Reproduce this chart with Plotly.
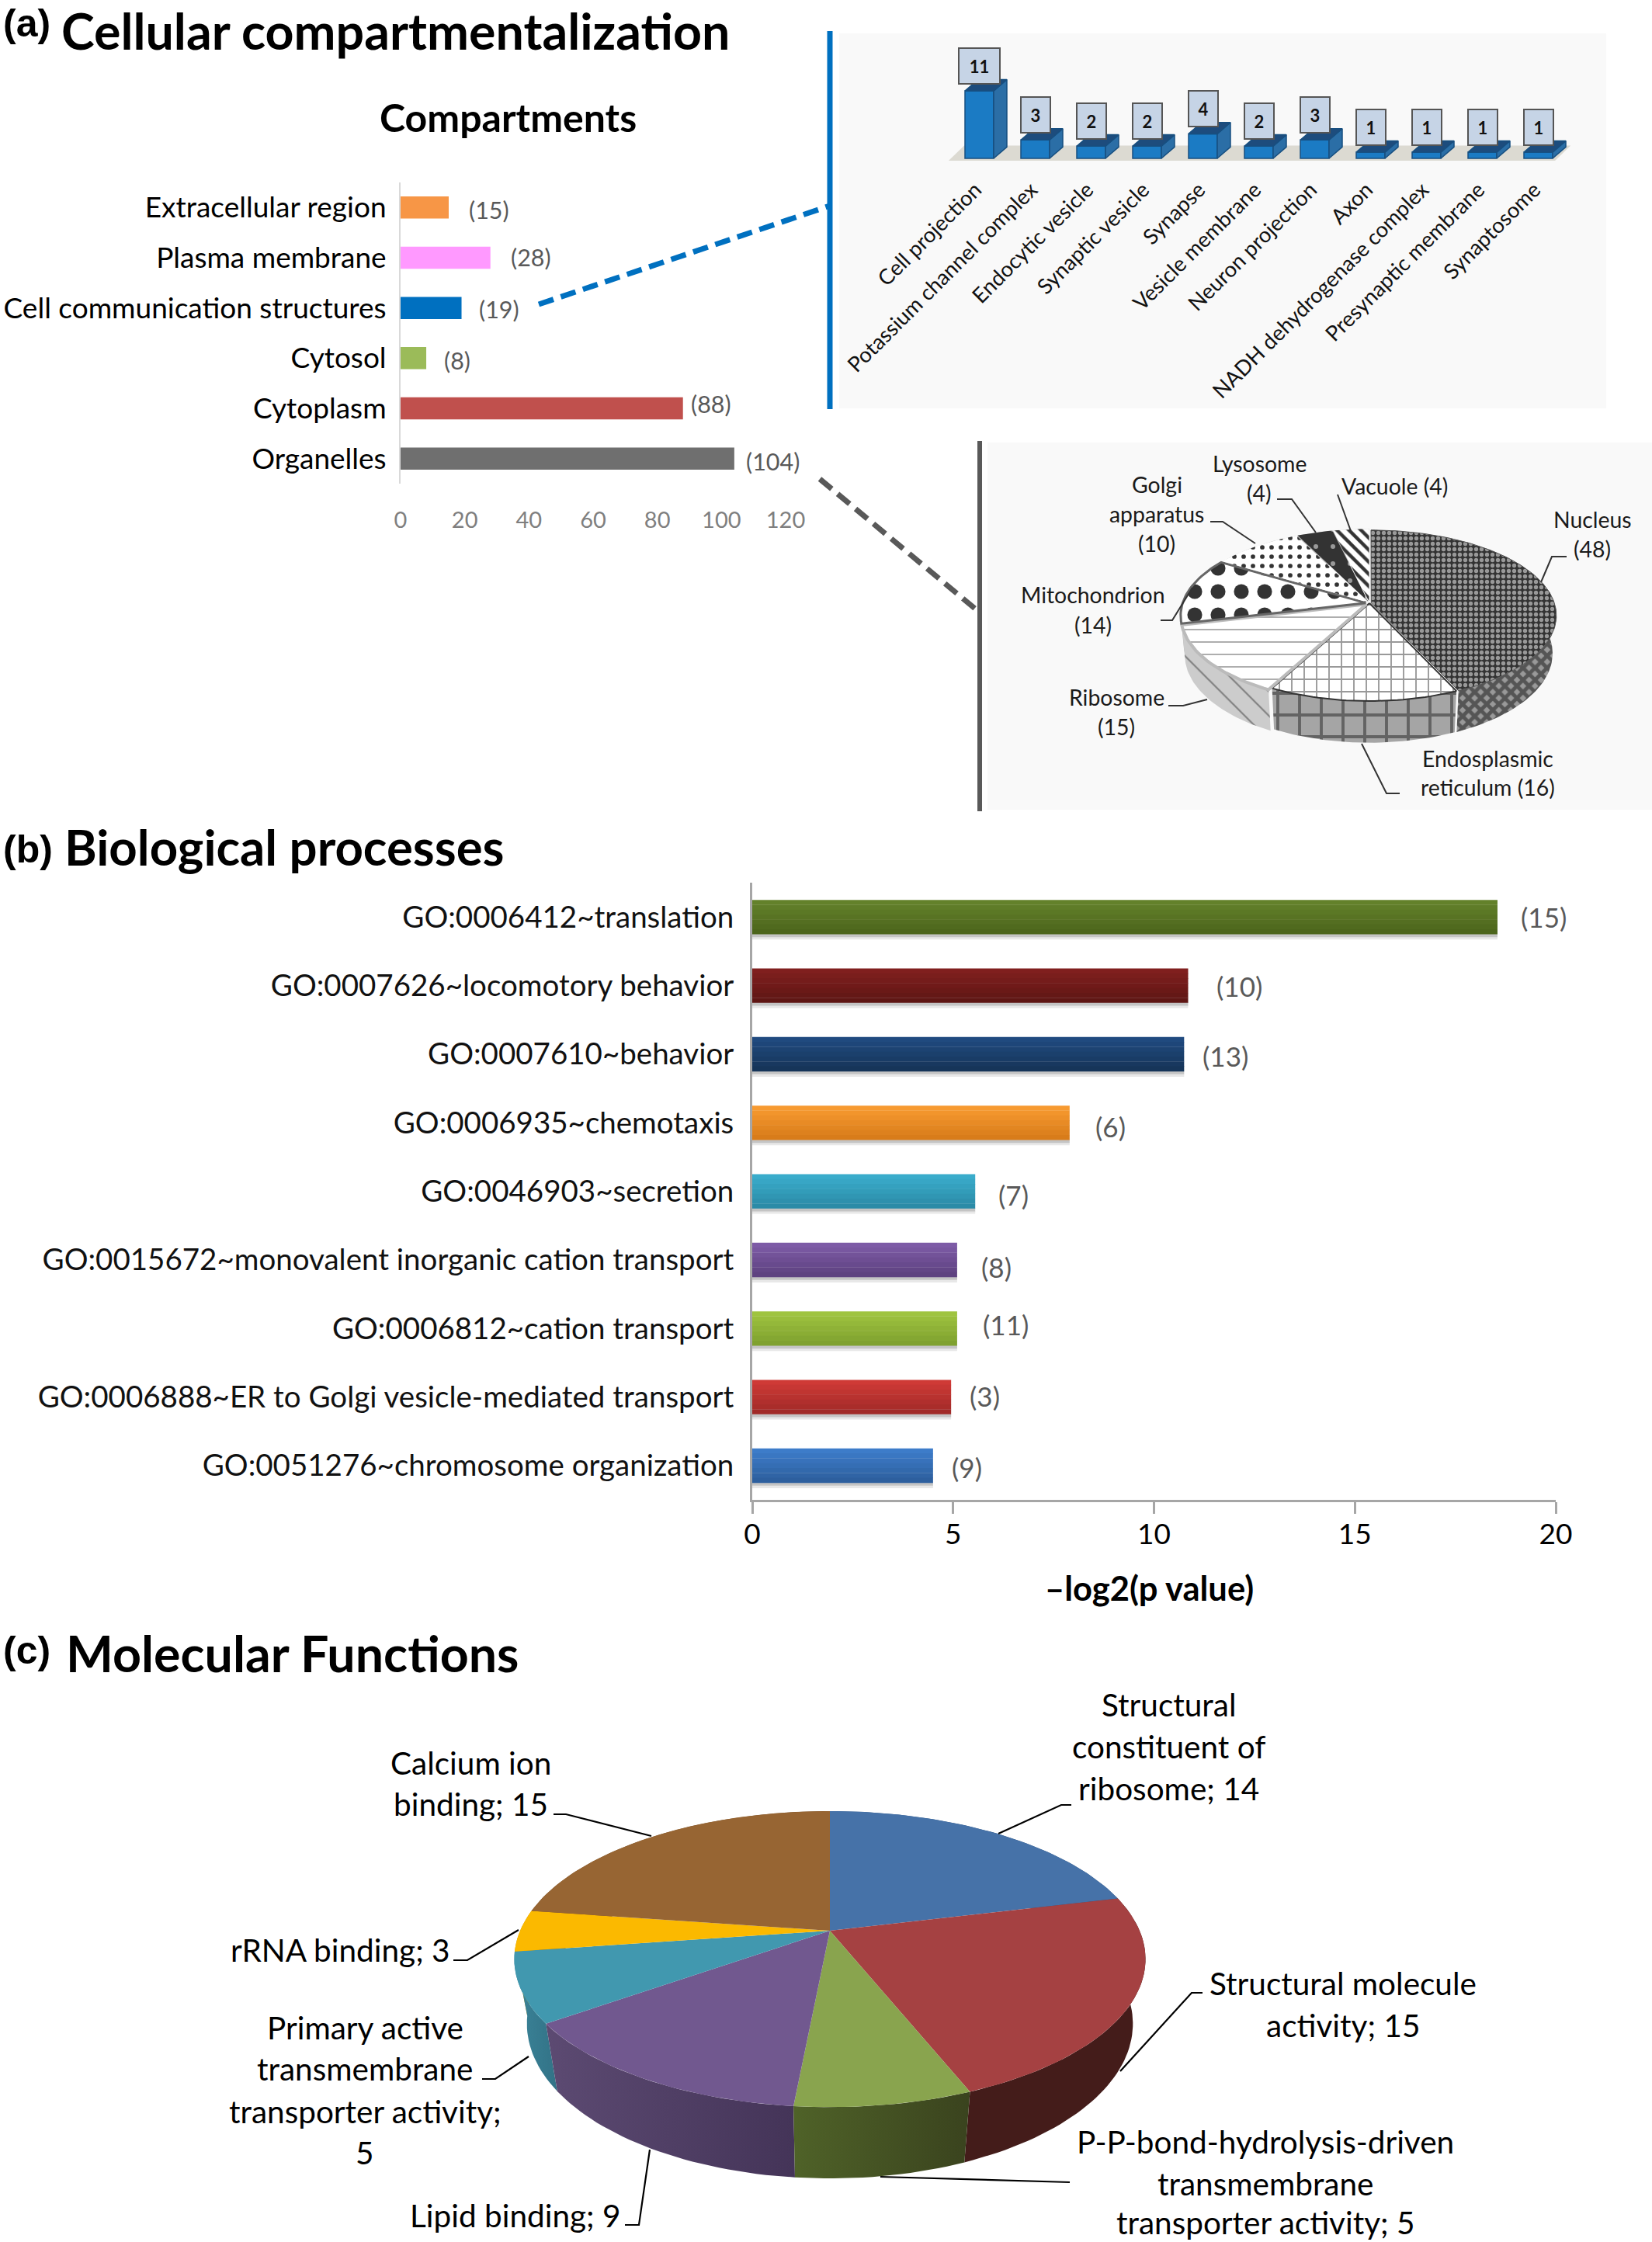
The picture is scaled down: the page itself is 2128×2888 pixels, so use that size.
import math
import plotly.graph_objects as go

W, H = 2128, 2888
FONT = "Lato"

# (a) compartments
comp_names = ["Extracellular region", "Plasma membrane", "Cell communication structures", "Cytosol", "Cytoplasm", "Organelles"]
comp_values = [15, 28, 19, 8, 88, 104]
comp_colors = ["#f79646", "#ff99ff", "#0070c0", "#9bbb59", "#c0504d", "#6f6f6f"]
comp_ticks = [0, 20, 40, 60, 80, 100, 120]
comp_xshift = [24, 24, 20, 21, 8, 13]
comp_yshift = [3, -1, 1, 3, -6, 3]

# (a) inset bars
cc_names = ["Cell projection", "Potassium channel complex", "Endocytic vesicle", "Synaptic vesicle", "Synapse",
            "Vesicle membrane", "Neuron projection", "Axon", "NADH dehydrogenase complex", "Presynaptic membrane", "Synaptosome"]
cc_values = [11, 3, 2, 2, 4, 2, 3, 1, 1, 1, 1]

# (a) inset pie
org_values = [48, 16, 15, 14, 10, 4, 4]

# (b) biological processes
bp_names = ["GO:0006412~translation", "GO:0007626~locomotory behavior", "GO:0007610~behavior", "GO:0006935~chemotaxis",
            "GO:0046903~secretion", "GO:0015672~monovalent inorganic cation transport", "GO:0006812~cation transport",
            "GO:0006888~ER to Golgi vesicle-mediated transport", "GO:0051276~chromosome organization"]
bp_values = [18.55, 10.85, 10.75, 7.9, 5.55, 5.1, 5.1, 4.95, 4.5]
bp_counts = [15, 10, 13, 6, 7, 8, 11, 3, 9]
bp_top = ["#63812a", "#801f1e", "#204a7f", "#f79a30", "#3aaccb", "#7d5ba6", "#9fc43f", "#cf3a36", "#3d7cc9"]
bp_bottom = ["#4c651c", "#5f1614", "#163559", "#d87c1a", "#2b8ba7", "#5e4280", "#7fa12f", "#a12a28", "#2d5f9e"]
bp_xshift = [28, 35, 22, 31, 28, 29, 31, 22, 22]
bp_yshift = [0, 0, 2, 5, 4, 9, -5, -2, 2]
bp_ticks = [0, 5, 10, 15, 20]

# (c) molecular functions
mf_values = [14, 15, 5, 9, 5, 3, 15]
mf_top = ["#4672a8", "#a54142", "#89a44e", "#71588f", "#4198af", "#fbb900", "#976533"]
mf_side_a = ["#39608f", "#441c1a", "#4f6228", "#5c4a72", "#3b8499", "#c99400", "#7a5129"]
mf_side_b = ["#2f5078", "#441c1a", "#3a431e", "#443458", "#327286", "#c99400", "#7a5129"]


def fx(p):
    return p / W


def fy(p):
    return 1 - p / H


def dx(a, b):
    return [fx(a), fx(b)]


def dy(top, bottom):
    return [fy(bottom), fy(top)]


fig = go.Figure()
annos = []
shapes = []


def text(t, x, y, size, anchor="center", color="#000000", bold=False, family=FONT):
    annos.append(dict(text=("<b>%s</b>" % t) if bold else t, x=fx(x), y=fy(y), xref="paper", yref="paper",
                      showarrow=False, xanchor=anchor, yanchor="middle",
                      font=dict(family=family, size=size, color=color)))


def poly(pts, color, width, dash=None):
    path = "M " + " L ".join("%.5f %.5f" % (fx(a), fy(b)) for a, b in pts)
    shapes.append(dict(type="path", xref="paper", yref="paper", path=path, layer="above",
                       line=dict(color=color, width=width, dash=dash or "solid")))


def pie3d(values, xa, ya, A, Bv, k, thick, shrink, styles, explode):
    total = sum(values)

    def proj(X, Y):
        w = 1 + k * Y
        return A * X / w, Bv * Y / w

    sides, tops = [], []
    cum = 0
    for i, v in enumerate(values):
        a0 = cum / total * 2 * math.pi
        cum += v
        a1 = cum / total * 2 * math.pi
        mid = (a0 + a1) / 2
        ex, ey = explode[i] * math.sin(mid), explode[i] * math.cos(mid)
        n = max(3, int((a1 - a0) / math.radians(1.5)))
        arc = [a0 + (a1 - a0) * j / n for j in range(n + 1)]
        top = [proj(ex + math.sin(t), ey + math.cos(t)) for t in arc]
        low = [(px * shrink, py * shrink - thick / (1 + k * (ey + math.cos(t)))) for (px, py), t in zip(top, arc)]
        c = proj(ex, ey)
        st = styles[i]
        side_pts = top + low[::-1] + top[:1]
        s = dict(x=[p[0] for p in side_pts], y=[p[1] for p in side_pts], mode="lines", fill="toself",
                 line=dict(width=0), xaxis=xa, yaxis=ya, hoverinfo="skip", showlegend=False)
        s.update(st["side"])
        sides.append((-math.cos(mid), go.Scatter(**s)))
        top_pts = [c] + top + [c]
        t = dict(x=[p[0] for p in top_pts], y=[p[1] for p in top_pts], mode="lines", fill="toself",
                 xaxis=xa, yaxis=ya, hoverinfo="skip", showlegend=False)
        t.update(st["top"])
        tops.append(go.Scatter(**t))
    sides.sort(key=lambda item: item[0])
    for _, tr in sides:
        fig.add_trace(tr)
    for tr in tops:
        fig.add_trace(tr)


# ---------- (a) main bars
fig.add_trace(go.Bar(x=comp_values, y=comp_names, orientation="h", width=0.44, marker=dict(color=comp_colors, line=dict(width=0)),
                     xaxis="x", yaxis="y", showlegend=False))
for n, v, xs, ys in zip(comp_names, comp_values, comp_xshift, comp_yshift):
    annos.append(dict(text="(%d)" % v, x=v, y=n, xref="x", yref="y", showarrow=False, xanchor="left", xshift=xs, yshift=-ys,
                      font=dict(family=FONT, size=30.5, color="#595959")))

# ---------- (a) inset bars
PX_X = 72.0
PX_Y = 7.9
BW = 37 / PX_X
DX = 17 / PX_X
DY = 14.6 / PX_Y
xs = list(range(len(cc_values)))
nb = len(cc_values)
for i, v in zip(xs, cc_values):
    r = i + BW / 2
    l = i - BW / 2
    fig.add_trace(go.Scatter(x=[r, r + DX, r + DX, r, r], y=[0, DY, v + DY, v, 0], mode="lines", fill="toself",
                             fillcolor="#2b6ea6", line=dict(color="#174f80", width=1.5),
                             xaxis="x2", yaxis="y2", hoverinfo="skip", showlegend=False))
    fig.add_trace(go.Scatter(x=[l, l + DX, r + DX, r, l], y=[v, v + DY, v + DY, v, v], mode="lines", fill="toself",
                             fillcolor="#1d4c7d", line=dict(color="#174f80", width=1.5),
                             xaxis="x2", yaxis="y2", hoverinfo="skip", showlegend=False))
fig.add_trace(go.Bar(x=xs, y=cc_values, width=BW, marker=dict(color="#1b7bc4", line=dict(color="#174f80", width=1.5)),
                     xaxis="x2", yaxis="y2", showlegend=False))
for i, v in zip(xs, cc_values):
    annos.append(dict(text="<b>%d</b>" % v, x=i, y=v + DY, xref="x2", yref="y2", showarrow=False, xanchor="center", yanchor="bottom",
                      yshift=-6, width=51 if v > 9 else 36, height=44, bgcolor="#c6d4e6", bordercolor="#555555", borderwidth=2, borderpad=0,
                      font=dict(family=FONT, size=22, color="#111111")))

# ---------- (a) inset pie
org_styles = [
    dict(top=dict(fillcolor="#333333", line=dict(color="#555555", width=1), fillpattern=dict(shape=".", bgcolor="#333333", fgcolor="#ffffff", size=7, solidity=0.45)),
         side=dict(fillcolor="#222222", fillpattern=dict(shape="x", bgcolor="#999999", fgcolor="#111111", size=11, solidity=0.7))),
    dict(top=dict(fillcolor="#ffffff", line=dict(color="#333333", width=2), fillpattern=dict(shape="+", bgcolor="#ffffff", fgcolor="#333333", size=16, solidity=0.22)),
         side=dict(fillcolor="#999999", fillpattern=dict(shape="+", bgcolor="#a5a5a5", fgcolor="#222222", size=28, solidity=0.26))),
    dict(top=dict(fillcolor="#ffffff", line=dict(color="#bbbbbb", width=4), fillpattern=dict(shape="-", bgcolor="#ffffff", fgcolor="#333333", size=16, solidity=0.1)),
         side=dict(fillcolor="#cccccc", fillpattern=dict(shape="\\", bgcolor="#cccccc", fgcolor="#333333", size=22, solidity=0.1))),
    dict(top=dict(fillcolor="#ffffff", line=dict(color="#666666", width=3), fillpattern=dict(shape=".", bgcolor="#ffffff", fgcolor="#333333", fgopacity=1, size=30, solidity=0.32)),
         side=dict(fillcolor="#bbbbbb")),
    dict(top=dict(fillcolor="#ffffff", line=dict(width=0), fillpattern=dict(shape=".", bgcolor="#ffffff", fgcolor="#333333", fgopacity=1, size=12, solidity=0.18)),
         side=dict(fillcolor="#bbbbbb")),
    dict(top=dict(fillcolor="#333333", line=dict(width=0), fillpattern=dict(shape=".", bgcolor="#333333", fgcolor="#ffffff", size=22, solidity=0.06)),
         side=dict(fillcolor="#bbbbbb")),
    dict(top=dict(fillcolor="#ffffff", line=dict(width=0), fillpattern=dict(shape="\\", bgcolor="#ffffff", fgcolor="#333333", fgopacity=1, size=11, solidity=0.4)),
         side=dict(fillcolor="#bbbbbb")),
]
pie3d(org_values, "x3", "y3", 236, 107.7, 0.1455, 48, 0.98, org_styles, [0.01, 0.0, 0.02, 0.02, 0.02, 0.02, 0.02])

# ---------- (b) bars
NB = 7
row_w = 44 / 88.3
fig.add_trace(go.Bar(x=bp_values, y=bp_names, orientation="h", width=0.04, offset=row_w / 2 + 0.04, marker=dict(color="#e8e8e8", line=dict(width=0)),
                     xaxis="x4", yaxis="y4", showlegend=False, hoverinfo="skip"))
fig.add_trace(go.Bar(x=bp_values, y=bp_names, orientation="h", width=0.05, offset=row_w / 2 - 0.005, marker=dict(color="#c4c4c4", line=dict(width=0)),
                     xaxis="x4", yaxis="y4", showlegend=False, hoverinfo="skip"))


def mix(c1, c2, t):
    a = [int(c1[i:i + 2], 16) for i in (1, 3, 5)]
    b = [int(c2[i:i + 2], 16) for i in (1, 3, 5)]
    return "#%02x%02x%02x" % tuple(round(p + (q - p) * t) for p, q in zip(a, b))


for k in range(NB):
    cols = [mix(a, b, k / (NB - 1)) for a, b in zip(bp_top, bp_bottom)]
    fig.add_trace(go.Bar(x=bp_values, y=bp_names, orientation="h", width=row_w / NB + 0.004, offset=-row_w / 2 + k * row_w / NB,
                         marker=dict(color=cols, line=dict(width=0)), xaxis="x4", yaxis="y4", showlegend=False))
for n, v, c, xs_, ys_ in zip(bp_names, bp_values, bp_counts, bp_xshift, bp_yshift):
    annos.append(dict(text="(%d)" % c, x=v, y=n, xref="x4", yref="y4", showarrow=False, xanchor="left", xshift=xs_, yshift=-ys_,
                      font=dict(family=FONT, size=35, color="#595959")))

# ---------- (c) pie
mf_styles = [dict(top=dict(fillcolor=c, line=dict(width=0)),
                  side=dict(fillgradient=dict(type="horizontal", colorscale=[[0, a], [1, b]])))
             for c, a, b in zip(mf_top, mf_side_a, mf_side_b)]
pie3d(mf_values, "x5", "y5", 399, 183.6, 0.192, 81.6, 0.96, mf_styles, [0] * 7)

# ---------- panels
shapes.append(dict(type="rect", xref="paper", yref="paper", x0=fx(1081), x1=fx(2069), y0=fy(526), y1=fy(43), layer="below",
                   fillcolor="#f9f9f9", line=dict(width=0)))
shapes.append(dict(type="rect", xref="paper", yref="paper", x0=fx(1272), x1=fx(2128), y0=fy(1043), y1=fy(570), layer="below",
                   fillcolor="#f9f9f9", line=dict(width=0)))
# floor under the inset bars, on the inset's own axes
floor_x = [-0.55, nb - 1 + 0.3, nb - 1 + 0.3 + 0.28, -0.55 + 0.28]
floor_y = [-0.38, -0.38, 2.1, 2.1]
shapes.append(dict(type="path", xref="x2", yref="y2", layer="below", fillcolor="#dcdad2", line=dict(width=0),
                   path="M " + " L ".join("%.3f %.3f" % p for p in zip(floor_x, floor_y)) + " Z"))
poly([(1069, 40), (1069, 527)], "#0070c0", 7)
poly([(694, 392), (1069, 265)], "#0070c0", 7, dash="20px,10px")
poly([(1262, 568), (1262, 1045)], "#595959", 6)
poly([(1056, 617), (1262, 789)], "#595959", 7, dash="20px,10px")

# ---------- leaders
for pts in [[(2018, 717), (1999, 717), (1985, 750)], [(1559, 672), (1575, 672), (1617, 700)],
            [(1645, 643), (1664, 643), (1695, 686)], [(1723, 637), (1740, 684)],
            [(1495, 799), (1510, 799), (1536, 757)], [(1505, 909), (1524, 909), (1555, 901)],
            [(1754, 958), (1786, 1022), (1803, 1022)]]:
    poly(pts, "#333333", 2)
for pts in [[(1380, 2325), (1367, 2325), (1286, 2362)], [(713, 2337), (729, 2337), (839, 2365)],
            [(584, 2525), (602, 2525), (668, 2486)], [(621, 2678), (638, 2678), (681, 2649)],
            [(805, 2866), (823, 2866), (837, 2769)], [(1549, 2567), (1535, 2567), (1443, 2668)],
            [(1378, 2811), (1134, 2804)]]:
    poly(pts, "#000000", 2.2)

# ---------- titles
text("<b>(a)</b>", 2, 30, 50, "left", family="Liberation Sans")
text("Cellular compartmentalization", 77, 39, 64.5, "left", bold=True)
text("Compartments", 654, 151, 50, bold=True)
text("<b>(b)</b>", 2, 1094, 50, "left", family="Liberation Sans")
text("Biological processes", 81, 1090, 63.5, "left", bold=True)
text("<b>(c)</b>", 2, 2126, 50, "left", family="Liberation Sans")
text("Molecular Functions", 83, 2129, 64.5, "left", bold=True)
text("\u2013log2(p value)", 1480, 2045, 43.5, bold=True)

# ---------- inset pie labels
for t, x, y in [("Nucleus", 2051, 669), ("(48)", 2051, 707), ("Lysosome", 1622, 597), ("(4)", 1622, 635), ("Vacuole (4)", 1796, 626),
                ("Golgi", 1490, 624), ("apparatus", 1490, 662), ("(10)", 1490, 700), ("Mitochondrion", 1408, 766), ("(14)", 1408, 805),
                ("Ribosome", 1438, 898), ("(15)", 1438, 936), ("Endosplasmic", 1916, 977), ("reticulum (16)", 1916, 1014)]:
    text(t, x, y, 28.4, color="#1a1a1a")

# ---------- (c) labels
for t, x, y in [("Structural", 1505, 2195), ("constituent of", 1505, 2249), ("ribosome; 14", 1505, 2303),
                ("Calcium ion", 606, 2270), ("binding; 15", 606, 2323), ("rRNA binding; 3", 438, 2511),
                ("Primary active", 470, 2611), ("transmembrane", 470, 2664), ("transporter activity;", 470, 2719), ("5", 470, 2772),
                ("Lipid binding; 9", 664, 2853), ("Structural molecule", 1730, 2554), ("activity; 15", 1730, 2608),
                ("P-P-bond-hydrolysis-driven", 1630, 2758), ("transmembrane", 1630, 2812), ("transporter activity; 5", 1630, 2862)]:
    text(t, x, y, 40.5)

hidden = dict(visible=False, fixedrange=True)
fig.update_layout(
    width=W, height=H, autosize=False, margin=dict(l=0, r=0, t=0, b=0, pad=0, autoexpand=False),
    paper_bgcolor="#ffffff", plot_bgcolor="rgba(0,0,0,0)", barmode="overlay", showlegend=False,
    annotations=annos, shapes=shapes, font=dict(family=FONT),
    xaxis=dict(domain=dx(516, 1012), range=[0, 120], tickvals=comp_ticks, showgrid=False, zeroline=False, showline=False, ticks="",
               ticklabelstandoff=27, tickfont=dict(family=FONT, size=29, color="#7f7f7f"), anchor="y"),
    yaxis=dict(domain=dy(235, 623), autorange="reversed", type="category", categoryorder="array", categoryarray=comp_names,
               showgrid=False, zeroline=False, showline=True, linecolor="#d9d9d9", linewidth=2, ticks="", ticklabelstandoff=9,
               tickfont=dict(family=FONT, size=37, color="#000000"), anchor="x"),
    xaxis2=dict(domain=dx(1180, 2060), range=[(1180 - 1261.5) / PX_X, (2060 - 1261.5) / PX_X], tickmode="array",
                tickvals=[i - 0.07 for i in xs], ticktext=cc_names,
                tickangle=-45, showgrid=False, zeroline=False, showline=False, ticks="", ticklabelstandoff=8,
                tickfont=dict(family=FONT, size=27.5, color="#111111"), anchor="y2"),
    yaxis2=dict(domain=dy(50, 214), range=[-10 / PX_Y, 154 / PX_Y], visible=False, anchor="x2"),
    xaxis3=dict(domain=dx(1464, 2064), range=[-300, 300], anchor="y3", **hidden),
    yaxis3=dict(domain=dy(627, 977), range=[-200, 150], anchor="x3", **hidden),
    xaxis4=dict(domain=dx(969, 2004), range=[0, 20], tickvals=bp_ticks, showgrid=False, zeroline=False, showline=True, linecolor="#a6a6a6", linewidth=3,
                ticks="outside", ticklen=15, tickwidth=3, tickcolor="#a6a6a6", ticklabelstandoff=-5,
                tickfont=dict(family=FONT, size=37, color="#000000"), anchor="y4"),
    yaxis4=dict(domain=dy(1137, 1932), autorange="reversed", type="category", categoryorder="array", categoryarray=bp_names, showgrid=False, zeroline=False,
                showline=True, linecolor="#a6a6a6", linewidth=3, ticks="", ticklabelstandoff=13,
                tickfont=dict(family=FONT, size=38.5, color="#111111"), anchor="x4"),
    xaxis5=dict(domain=dx(619, 1519), range=[-450, 450], anchor="y5", **hidden),
    yaxis5=dict(domain=dy(2317, 2827), range=[-340, 170], anchor="x5", **hidden),
)

fig.write_html("out.html", post_script="document.body.style.margin='0';", config=dict(displayModeBar=False))
